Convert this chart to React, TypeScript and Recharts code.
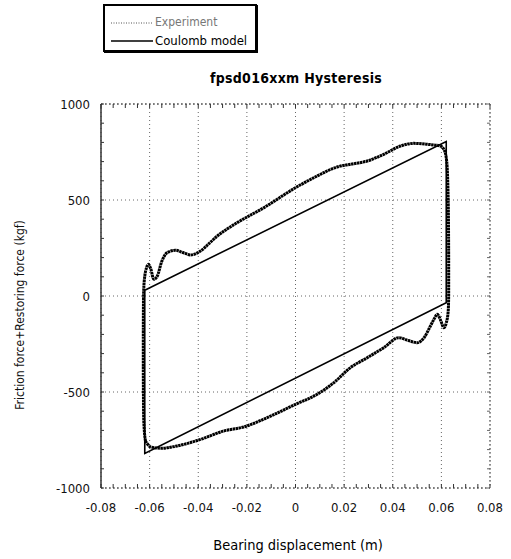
import React from "react";
import { LineChart, Line, XAxis, YAxis, CartesianGrid } from "recharts";

const FONT = "'Liberation Sans Narrow', 'DejaVu Sans Condensed', 'Arial Narrow', sans-serif";

const TITLE = "fpsd016xxm Hysteresis";
const X_LABEL = "Bearing displacement (m)";
const Y_LABEL = "Friction force+Restoring force (kgf)";
const LEGEND_EXP = "Experiment";
const LEGEND_MODEL = "Coulomb model";

const xTicks = [-0.08, -0.06, -0.04, -0.02, 0, 0.02, 0.04, 0.06, 0.08];
const yTicks = [-1000, -500, 0, 500, 1000];
const xMinorTicks = [
  -0.08, -0.075, -0.07, -0.065, -0.06, -0.055, -0.05, -0.045, -0.04, -0.035, -0.03, -0.025,
  -0.02, -0.015, -0.01, -0.005, 0, 0.005, 0.01, 0.015, 0.02, 0.025, 0.03, 0.035, 0.04,
  0.045, 0.05, 0.055, 0.06, 0.065, 0.07, 0.075, 0.08,
];
const yMinorTicks = [
  -1000, -900, -800, -700, -600, -500, -400, -300, -200, -100, 0, 100, 200, 300, 400, 500,
  600, 700, 800, 900, 1000,
];

// Experiment hysteresis loop (displacement m, force kgf)
const expDisp = [
  -0.0617, -0.0624, -0.0626, -0.0626, -0.0625, -0.0622, -0.0612, -0.0605, -0.0595, -0.0583,
  -0.057, -0.055, -0.0528, -0.0494, -0.046, -0.0432, -0.0391, -0.035, -0.0322, -0.028,
  -0.024, -0.013, 0, 0.0089, 0.0171, 0.0226, 0.0295, 0.0363, 0.0432, 0.0487,
  0.0542, 0.0596, 0.0612, 0.0622, 0.0628, 0.063, 0.063, 0.0628, 0.062, 0.061,
  0.0598, 0.0583, 0.057, 0.0555, 0.053, 0.05, 0.0465, 0.0425, 0.0363, 0.029,
  0.0226, 0.0158, 0.0089, 0, -0.0117, -0.0213, -0.0295, -0.0391, -0.0487, -0.0555,
  -0.0596, -0.0617,
];
const expForce = [
  -755, -650, -400, -200, 0, 80, 150, 165, 140, 87,
  100, 180, 226, 238, 225, 214, 234, 280, 312, 350,
  382, 460, 564, 625, 672, 686, 703, 738, 781, 795,
  790, 781, 760, 700, 500, 200, 0, -80, -140, -165,
  -130, -95, -120, -156, -215, -243, -232, -217, -269, -325,
  -373, -451, -512, -564, -634, -682, -703, -747, -781, -793,
  -786, -755,
];

// Coulomb model parallelogram
const modelDisp = [-0.062, 0.062, 0.062, -0.062, -0.062];
const modelForce = [30, 805, -35, -820, 30];

const expData = expDisp.map((x, i) => ({ x, y: expForce[i] }));
const modelData = modelDisp.map((x, i) => ({ x, y: modelForce[i] }));

const blank = () => "";

export default function App() {
  return (
    <div style={{ position: "absolute", left: 0, top: 0, width: 511, height: 559, background: "#fff", fontFamily: FONT }}>
      <LineChart
        width={511}
        height={559}
        margin={{ top: 104, right: 21, bottom: 41, left: 0 }}
      >
        <CartesianGrid stroke="#666" strokeDasharray="1 3" horizontal vertical />
        <XAxis
          type="number"
          dataKey="x"
          domain={[-0.08, 0.08]}
          ticks={xTicks}
          allowDataOverflow
          height={30}
          tickSize={0}
          tickMargin={15}
          axisLine={{ stroke: "#444", strokeDasharray: "2 2" }}
          tickLine={false}
          tick={{ fill: "#111", fontSize: 13, fontFamily: FONT }}
          tickFormatter={(v: number) => (v === 0 ? "0" : String(v))}
        />
        <XAxis
          xAxisId="bm"
          type="number"
          dataKey="x"
          orientation="bottom"
          domain={[-0.08, 0.08]}
          ticks={xMinorTicks}
          allowDataOverflow
          mirror
          height={30}
          tickSize={4}
          tickMargin={0}
          tickFormatter={blank}
          axisLine={false}
          tickLine={{ stroke: "#333" }}
        />
        <XAxis
          xAxisId="top"
          type="number"
          dataKey="x"
          orientation="top"
          domain={[-0.08, 0.08]}
          ticks={xMinorTicks}
          allowDataOverflow
          mirror
          height={30}
          tickSize={4}
          tickMargin={0}
          tickFormatter={blank}
          axisLine={{ stroke: "#444", strokeDasharray: "2 2" }}
          tickLine={{ stroke: "#333" }}
        />
        <YAxis
          type="number"
          dataKey="y"
          domain={[-1000, 1000]}
          ticks={yTicks}
          allowDataOverflow
          width={101}
          tickSize={0}
          tickMargin={11}
          axisLine={{ stroke: "#333", strokeWidth: 1.5 }}
          tickLine={false}
          tick={{ fill: "#111", fontSize: 13, fontFamily: FONT }}
        />
        <YAxis
          yAxisId="lm"
          type="number"
          dataKey="y"
          orientation="left"
          domain={[-1000, 1000]}
          ticks={yMinorTicks}
          allowDataOverflow
          mirror
          width={30}
          tickSize={3}
          tickMargin={0}
          tickFormatter={blank}
          axisLine={false}
          tickLine={{ stroke: "#333" }}
        />
        <YAxis
          yAxisId="right"
          type="number"
          dataKey="y"
          orientation="right"
          domain={[-1000, 1000]}
          ticks={yMinorTicks}
          allowDataOverflow
          mirror
          width={30}
          tickSize={3}
          tickMargin={0}
          tickFormatter={blank}
          axisLine={{ stroke: "#666", strokeDasharray: "2 2" }}
          tickLine={{ stroke: "#666" }}
        />
        <Line
          data={modelData}
          dataKey="y"
          xAxisId="bm"
          yAxisId="lm"
          stroke="none"
          dot={false}
          legendType="none"
          isAnimationActive={false}
        />
        <Line
          data={modelData}
          dataKey="y"
          xAxisId="top"
          yAxisId="right"
          stroke="none"
          dot={false}
          legendType="none"
          isAnimationActive={false}
        />
        <Line
          data={modelData}
          dataKey="y"
          type="linear"
          stroke="#000"
          strokeWidth={1.6}
          dot={false}
          isAnimationActive={false}
        />
        <Line
          data={expData}
          dataKey="y"
          type="monotone"
          stroke="#000"
          strokeWidth={3}
          strokeDasharray="2.5 0.5"
          dot={false}
          isAnimationActive={false}
        />
      </LineChart>

      <div style={{ position: "absolute", left: 0, top: 70, width: 592, textAlign: "center", fontSize: 14, fontWeight: "bold", color: "#000", letterSpacing: 0.3 }}>
        {TITLE}
      </div>
      <div style={{ position: "absolute", left: 0, top: 537, width: 596, textAlign: "center", fontSize: 14.5, color: "#000" }}>
        {X_LABEL}
      </div>
      <div style={{ position: "absolute", left: 20, top: 316, width: 0, height: 0 }}>
        <div style={{ position: "absolute", left: -150, top: -8, width: 300, textAlign: "center", fontSize: 12, color: "#111", transform: "rotate(-90deg)", whiteSpace: "nowrap" }}>
          {Y_LABEL}
        </div>
      </div>

      <div style={{ position: "absolute", left: 103, top: 4, width: 150, height: 44, border: "2px solid #000", boxShadow: "1px 1px 0 #000", background: "#fff" }}>
        <svg width={46} height={44} style={{ position: "absolute", left: 4, top: 0 }}>
          <line x1={2} y1={17} x2={44} y2={17} stroke="#555" strokeWidth={1} strokeDasharray="1 1.5" />
          <line x1={2} y1={35} x2={44} y2={35} stroke="#000" strokeWidth={1.5} />
        </svg>
        <div style={{ position: "absolute", left: 50, top: 9, fontSize: 12, color: "#777", whiteSpace: "nowrap" }}>{LEGEND_EXP}</div>
        <div style={{ position: "absolute", left: 50, top: 27, fontSize: 13, color: "#000", whiteSpace: "nowrap" }}>{LEGEND_MODEL}</div>
      </div>
    </div>
  );
}
